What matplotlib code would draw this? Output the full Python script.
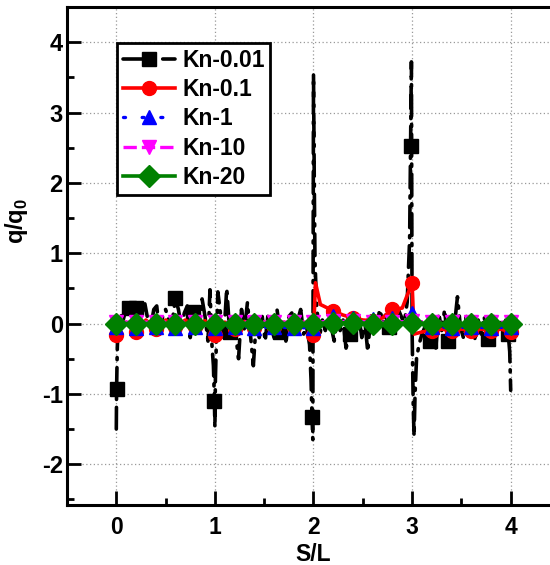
import numpy as np
import matplotlib
matplotlib.use("Agg")
import matplotlib.pyplot as plt
from matplotlib.ticker import MultipleLocator

plt.rcParams['font.family'] = ['Liberation Sans', 'DejaVu Sans']
plt.rcParams['font.weight'] = 'bold'
plt.rcParams['mathtext.fontset'] = 'custom'
plt.rcParams['mathtext.bf'] = 'Liberation Sans:bold'
plt.rcParams['mathtext.rm'] = 'Liberation Sans:bold'

# ---------------- data ----------------
labels = ["Kn-0.01", "Kn-0.1", "Kn-1", "Kn-10", "Kn-20"]

# Kn-0.01 (noisy, singular at corners)
kn001_x = [0.000, 0.003, 0.010, 0.020, 0.040, 0.070, 0.100, 0.130, 0.160, 0.200,
           0.230, 0.260, 0.290, 0.320, 0.350, 0.380, 0.410, 0.440, 0.470, 0.500,
           0.530, 0.560, 0.600, 0.630, 0.660, 0.690, 0.720, 0.750, 0.780, 0.810,
           0.840, 0.870, 0.900, 0.930, 0.950, 0.970, 0.985, 0.995, 1.000, 1.005,
           1.015, 1.030, 1.060, 1.090, 1.120, 1.150, 1.180, 1.210, 1.240, 1.270,
           1.300, 1.330, 1.360, 1.390, 1.420, 1.450, 1.480, 1.510, 1.540, 1.570,
           1.600, 1.630, 1.660, 1.690, 1.720, 1.750, 1.780, 1.810, 1.840, 1.870,
           1.900, 1.930, 1.960, 1.975, 1.985, 1.993, 2.000, 2.008, 2.015, 2.030,
           2.060, 2.090, 2.120, 2.150, 2.180, 2.210, 2.240, 2.270, 2.300, 2.330,
           2.370, 2.400, 2.430, 2.460, 2.490, 2.520, 2.550, 2.580, 2.610, 2.640,
           2.670, 2.700, 2.730, 2.770, 2.800, 2.830, 2.860, 2.890, 2.920, 2.950,
           2.975, 2.985, 2.993, 3.000, 3.005, 3.012, 3.020, 3.030, 3.045, 3.070,
           3.100, 3.130, 3.160, 3.180, 3.210, 3.240, 3.270, 3.300, 3.330, 3.360,
           3.390, 3.420, 3.460, 3.490, 3.520, 3.550, 3.580, 3.610, 3.640, 3.670,
           3.700, 3.730, 3.770, 3.800, 3.830, 3.860, 3.890, 3.920, 3.950, 3.975,
           3.990, 4.000]
kn001_y = [-1.50, -0.93, -0.35, 0.00, 0.15, 0.05, 0.22, 0.22, 0.10, 0.22,
           -0.10, 0.15, 0.28, 0.05, -0.05, 0.20, 0.25, -0.15, 0.10, 0.20,
           0.05, -0.05, 0.36, 0.20, -0.05, 0.15, 0.25, -0.20, 0.17, 0.05,
           -0.10, 0.35, 0.10, -0.25, 0.48, -0.30, -0.60, -1.10, -1.48, -0.80,
           -0.25, 0.45, 0.10, -0.20, 0.50, -0.12, 0.05, -0.15, -0.50, 0.20,
           -0.10, 0.30, -0.15, -0.60, 0.05, -0.20, 0.10, -0.25, 0.15, -0.05,
           -0.20, 0.20, -0.12, 0.05, -0.25, 0.10, 0.15, -0.10, 0.05, 0.20,
           -0.15, -0.05, -0.30, -0.80, -1.33, -1.65, 3.54, 2.00, 0.90, 0.30,
           -0.20, 0.05, -0.10, 0.15, -0.05, -0.25, 0.10, -0.10, 0.05, -0.35,
           -0.15, 0.05, -0.10, 0.10, -0.20, 0.05, -0.40, 0.10, 0.15, -0.10,
           0.20, 0.05, 0.12, -0.05, 0.15, 0.05, 0.20, 0.10, 0.00, 0.30,
           1.20, 2.52, 3.72, -0.10, -0.60, -1.20, -1.60, -1.00, -0.50, -0.30,
           -0.15, -0.05, -0.20, -0.25, 0.05, -0.35, 0.15, -0.10, 0.20, -0.25,
           0.05, -0.15, 0.38, -0.05, -0.20, 0.10, -0.10, 0.15, -0.25, 0.05,
           -0.15, 0.10, -0.22, -0.05, 0.10, -0.15, 0.05, -0.10, 0.05, -0.15,
           -0.40, -0.95]
kn001_marker_x = [0.003, 0.130, 0.200, 0.600, 0.780, 0.995, 1.150, 1.660, 1.985,
                  2.370, 2.770, 2.985, 3.180, 3.360, 3.770, 3.975]

# Kn-0.1
kn01_x = [0.0, 0.1, 0.2, 0.3, 0.4, 0.5, 0.6, 0.7, 0.8, 0.9,
          1.0, 1.1, 1.2, 1.3, 1.4, 1.5, 1.6, 1.7, 1.8, 1.9,
          2.0, 2.02, 2.07, 2.1, 2.2, 2.3, 2.4, 2.5, 2.6, 2.7,
          2.8, 2.9, 3.0, 3.02, 3.1, 3.2, 3.3, 3.4, 3.5, 3.6,
          3.7, 3.8, 3.9, 4.0]
kn01_y = [-0.16, 0.02, -0.12, 0.05, -0.08, 0.05, -0.05, 0.05, -0.05, 0.04,
          -0.17, 0.02, -0.08, 0.03, -0.06, 0.02, -0.05, 0.02, -0.05, 0.02,
          -0.16, 0.58, 0.27, 0.25, 0.18, 0.12, 0.08, 0.05, 0.04, 0.08,
          0.20, 0.22, 0.58, -0.15, -0.12, -0.10, -0.08, -0.10, -0.08, -0.10,
          -0.08, -0.10, -0.08, -0.12]

# Kn-1, Kn-10, Kn-20 (sampled every 0.2)
kn_x = [0.0, 0.2, 0.4, 0.6, 0.8, 1.0, 1.2, 1.4, 1.6, 1.8, 2.0,
        2.2, 2.4, 2.6, 2.8, 3.0, 3.2, 3.4, 3.6, 3.8, 4.0]
kn1_y = [-0.05, -0.06, -0.05, -0.06, -0.05, -0.06, -0.05, -0.06, -0.05, -0.06, -0.06,
         0.10, 0.08, 0.06, 0.08, 0.15, -0.05, -0.06, -0.05, -0.06, -0.05]
kn10_y = [0.02, 0.02, 0.02, 0.02, 0.02, 0.02, 0.02, 0.02, 0.02, 0.02, 0.02,
          0.03, 0.03, 0.02, 0.02, 0.03, 0.02, 0.02, 0.02, 0.02, 0.02]
kn20_y = [0.00, 0.00, 0.00, 0.00, 0.00, 0.00, 0.00, 0.00, 0.00, 0.00, 0.00,
          0.01, 0.01, 0.00, 0.00, 0.01, 0.00, 0.00, 0.00, 0.00, 0.00]

xticks = [0, 1, 2, 3, 4]
yticks = [-2, -1, 0, 1, 2, 3, 4]

# ---------------- figure ----------------
fig = plt.figure(figsize=(5.5, 5.65), dpi=100)
ax = fig.add_axes([67 / 550, 60 / 565, 493 / 550, 498 / 565])

x001 = np.array(kn001_x)
mk001 = [int(np.argmin(np.abs(x001 - m))) for m in kn001_marker_x]
x01 = np.array(kn01_x)
mk01 = [i for i, v in enumerate(x01) if abs(v * 5 - round(v * 5)) < 1e-6]

ax.plot(kn001_x, kn001_y, color='black', lw=2.6, linestyle=(0, (6, 2.2, 0.6, 2.2)),
        dash_capstyle='round', marker='s', ms=9.5, markevery=mk001, label=labels[0], zorder=2)
ax.plot(kn01_x, kn01_y, color='red', lw=2.6, linestyle='-', marker='o', ms=10,
        markevery=mk01, label=labels[1], zorder=3)
ax.plot(kn_x, kn1_y, color='blue', lw=2.4, linestyle=(0, (0.6, 5)), dash_capstyle='round',
        marker='^', ms=10, label=labels[2], zorder=4)
ax.plot(kn_x, kn10_y, color='magenta', lw=2.4, linestyle=(0, (4, 1.5)), marker='v', ms=10,
        label=labels[3], zorder=5)
ax.plot(kn_x, kn20_y, color='green', lw=2.6, linestyle='-', marker='D', ms=11,
        label=labels[4], zorder=6)

ax.set_xlim(-0.5, 4.5)
ax.set_ylim(-2.58, 4.5)
ax.set_xticks(xticks)
ax.set_yticks(yticks)
ax.set_xticklabels([str(t) for t in xticks])
ax.set_yticklabels([str(t) for t in yticks])
ax.xaxis.set_minor_locator(MultipleLocator(0.5))
ax.yaxis.set_minor_locator(MultipleLocator(0.5))
ax.tick_params(which='both', direction='in', top=False, right=False, width=2)
ax.tick_params(which='major', length=10)
ax.tick_params(which='minor', length=5)
ax.tick_params(axis='x', which='major', pad=8, labelsize=16.5)
ax.tick_params(axis='y', which='major', pad=3, labelsize=17)
for t in ax.get_xticklabels() + ax.get_yticklabels():
    t.set_fontweight('bold')

for s in ax.spines.values():
    s.set_linewidth(2.2)

ax.grid(True, which='major', color='#999999', linestyle=(0, (1, 2)), lw=0.9)
ax.set_axisbelow(True)

ax.set_xlabel('S/L', fontsize=16.5, fontweight='bold')
ax.xaxis.set_label_coords(0.5, -0.1115)
ax.xaxis.label.set_va('baseline')
ax.set_ylabel('q/q$_\\mathbf{0}$', fontsize=17, fontweight='bold')
ax.yaxis.set_label_coords(-0.075, 0.57)

leg = ax.legend(loc='upper left', bbox_to_anchor=(0.101, 0.928), borderaxespad=0,
                fancybox=False, framealpha=1, edgecolor='black',
                prop={'weight': 'bold', 'size': 16.5},
                handlelength=2.3, handletextpad=0.3, labelspacing=0.28, borderpad=0.25)
leg.get_frame().set_linewidth(2)

fig.savefig('out.png', dpi=100)
